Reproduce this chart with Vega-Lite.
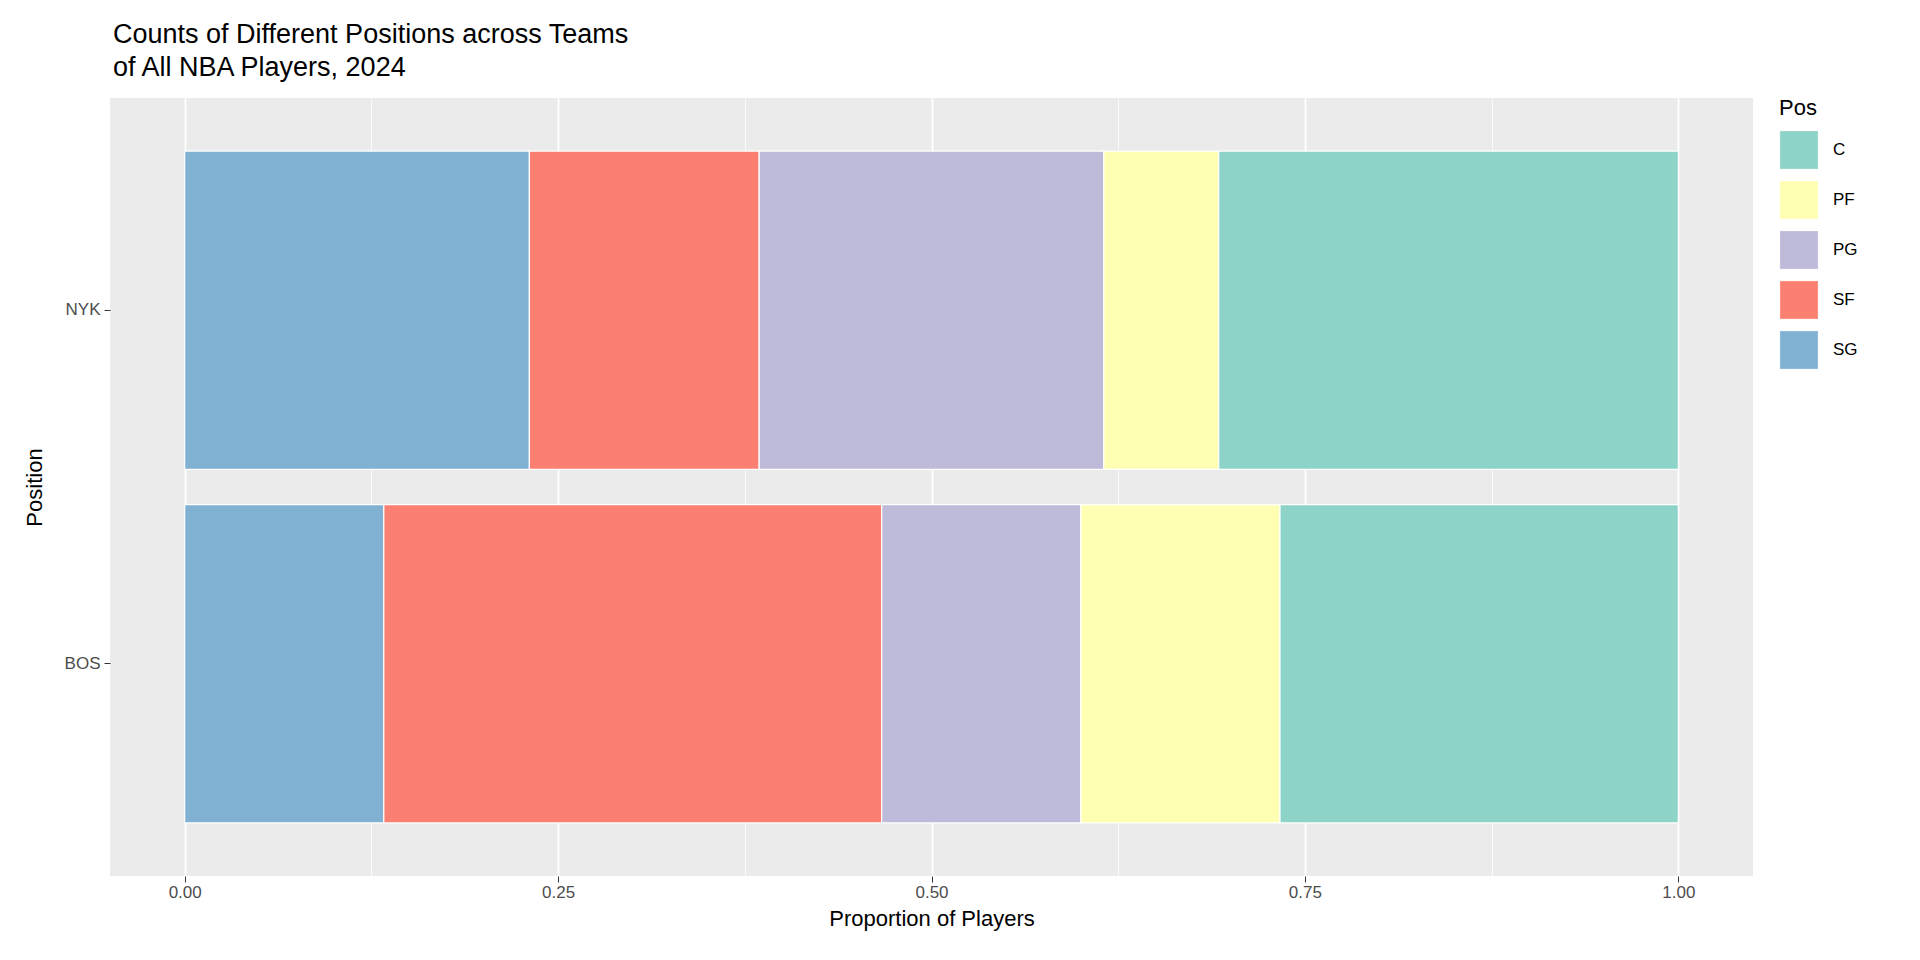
{
  "$schema": "https://vega.github.io/schema/vega-lite/v6.json",
  "autosize": "none",
  "width": 1643,
  "height": 778,
  "padding": {"left": 110, "top": 98, "right": 167, "bottom": 84},
  "background": "white",
  "config": {
    "font": "Liberation Sans",
    "view": {"fill": "#EBEBEB", "stroke": null},
    "axis": {"domain": false, "gridColor": "white", "tickColor": "#333333", "labelColor": "#4D4D4D", "labelFontSize": 17, "titleFontSize": 22, "titleFontWeight": "normal", "titleColor": "black"}
  },
  "title": {"text": ["Counts of Different Positions across Teams", "of All NBA Players, 2024"], "anchor": "start", "frame": "group", "fontSize": 27, "fontWeight": "normal", "lineHeight": 33, "offset": 16, "dx": 3},
  "data": {"values": [
    {"Team": "NYK", "Pos": "SG", "n": 3, "o": 1},
    {"Team": "NYK", "Pos": "SF", "n": 2, "o": 2},
    {"Team": "NYK", "Pos": "PG", "n": 3, "o": 3},
    {"Team": "NYK", "Pos": "PF", "n": 1, "o": 4},
    {"Team": "NYK", "Pos": "C", "n": 4, "o": 5},
    {"Team": "BOS", "Pos": "SG", "n": 2, "o": 1},
    {"Team": "BOS", "Pos": "SF", "n": 5, "o": 2},
    {"Team": "BOS", "Pos": "PG", "n": 2, "o": 3},
    {"Team": "BOS", "Pos": "PF", "n": 2, "o": 4},
    {"Team": "BOS", "Pos": "C", "n": 4, "o": 5}
  ]},
  "mark": {"type": "bar", "stroke": "white", "strokeWidth": 1.2},
  "encoding": {
    "y": {"field": "Team", "type": "nominal", "sort": ["NYK", "BOS"], "title": "Position",
      "scale": {"paddingInner": 0.1, "paddingOuter": 0.15},
      "axis": {"tickSize": 6, "labelPadding": 4, "titlePadding": 18}},
    "x": {"field": "n", "type": "quantitative", "stack": "normalize", "title": "Proportion of Players",
      "scale": {"domain": [-0.05, 1.05], "nice": false, "zero": false},
      "axis": {"values": [0, 0.125, 0.25, 0.375, 0.5, 0.625, 0.75, 0.875, 1],
        "labelExpr": "datum.value % 0.25 == 0 ? format(datum.value, '.2f') : ''",
        "gridWidth": {"expr": "datum.value % 0.25 == 0 ? 1.8 : 0.8"},
        "tickOpacity": {"expr": "datum.value % 0.25 == 0 ? 1 : 0"},
        "tickSize": 6, "titlePadding": 8}},
    "color": {"field": "Pos", "type": "nominal",
      "scale": {"domain": ["C", "PF", "PG", "SF", "SG"], "range": ["#8DD3C7", "#FFFFB3", "#BEBADA", "#FB8072", "#80B1D3"]},
      "legend": {"title": "Pos", "titleFontSize": 22, "titleFontWeight": "normal", "labelFontSize": 17, "symbolType": "square", "symbolSize": 1500, "symbolStrokeColor": "white", "symbolStrokeWidth": 1, "symbolOpacity": 1, "rowPadding": 6, "offset": 26, "orient": "right", "titlePadding": 10, "labelOffset": 14}},
    "order": {"field": "o", "type": "quantitative", "sort": "ascending"}
  }
}
